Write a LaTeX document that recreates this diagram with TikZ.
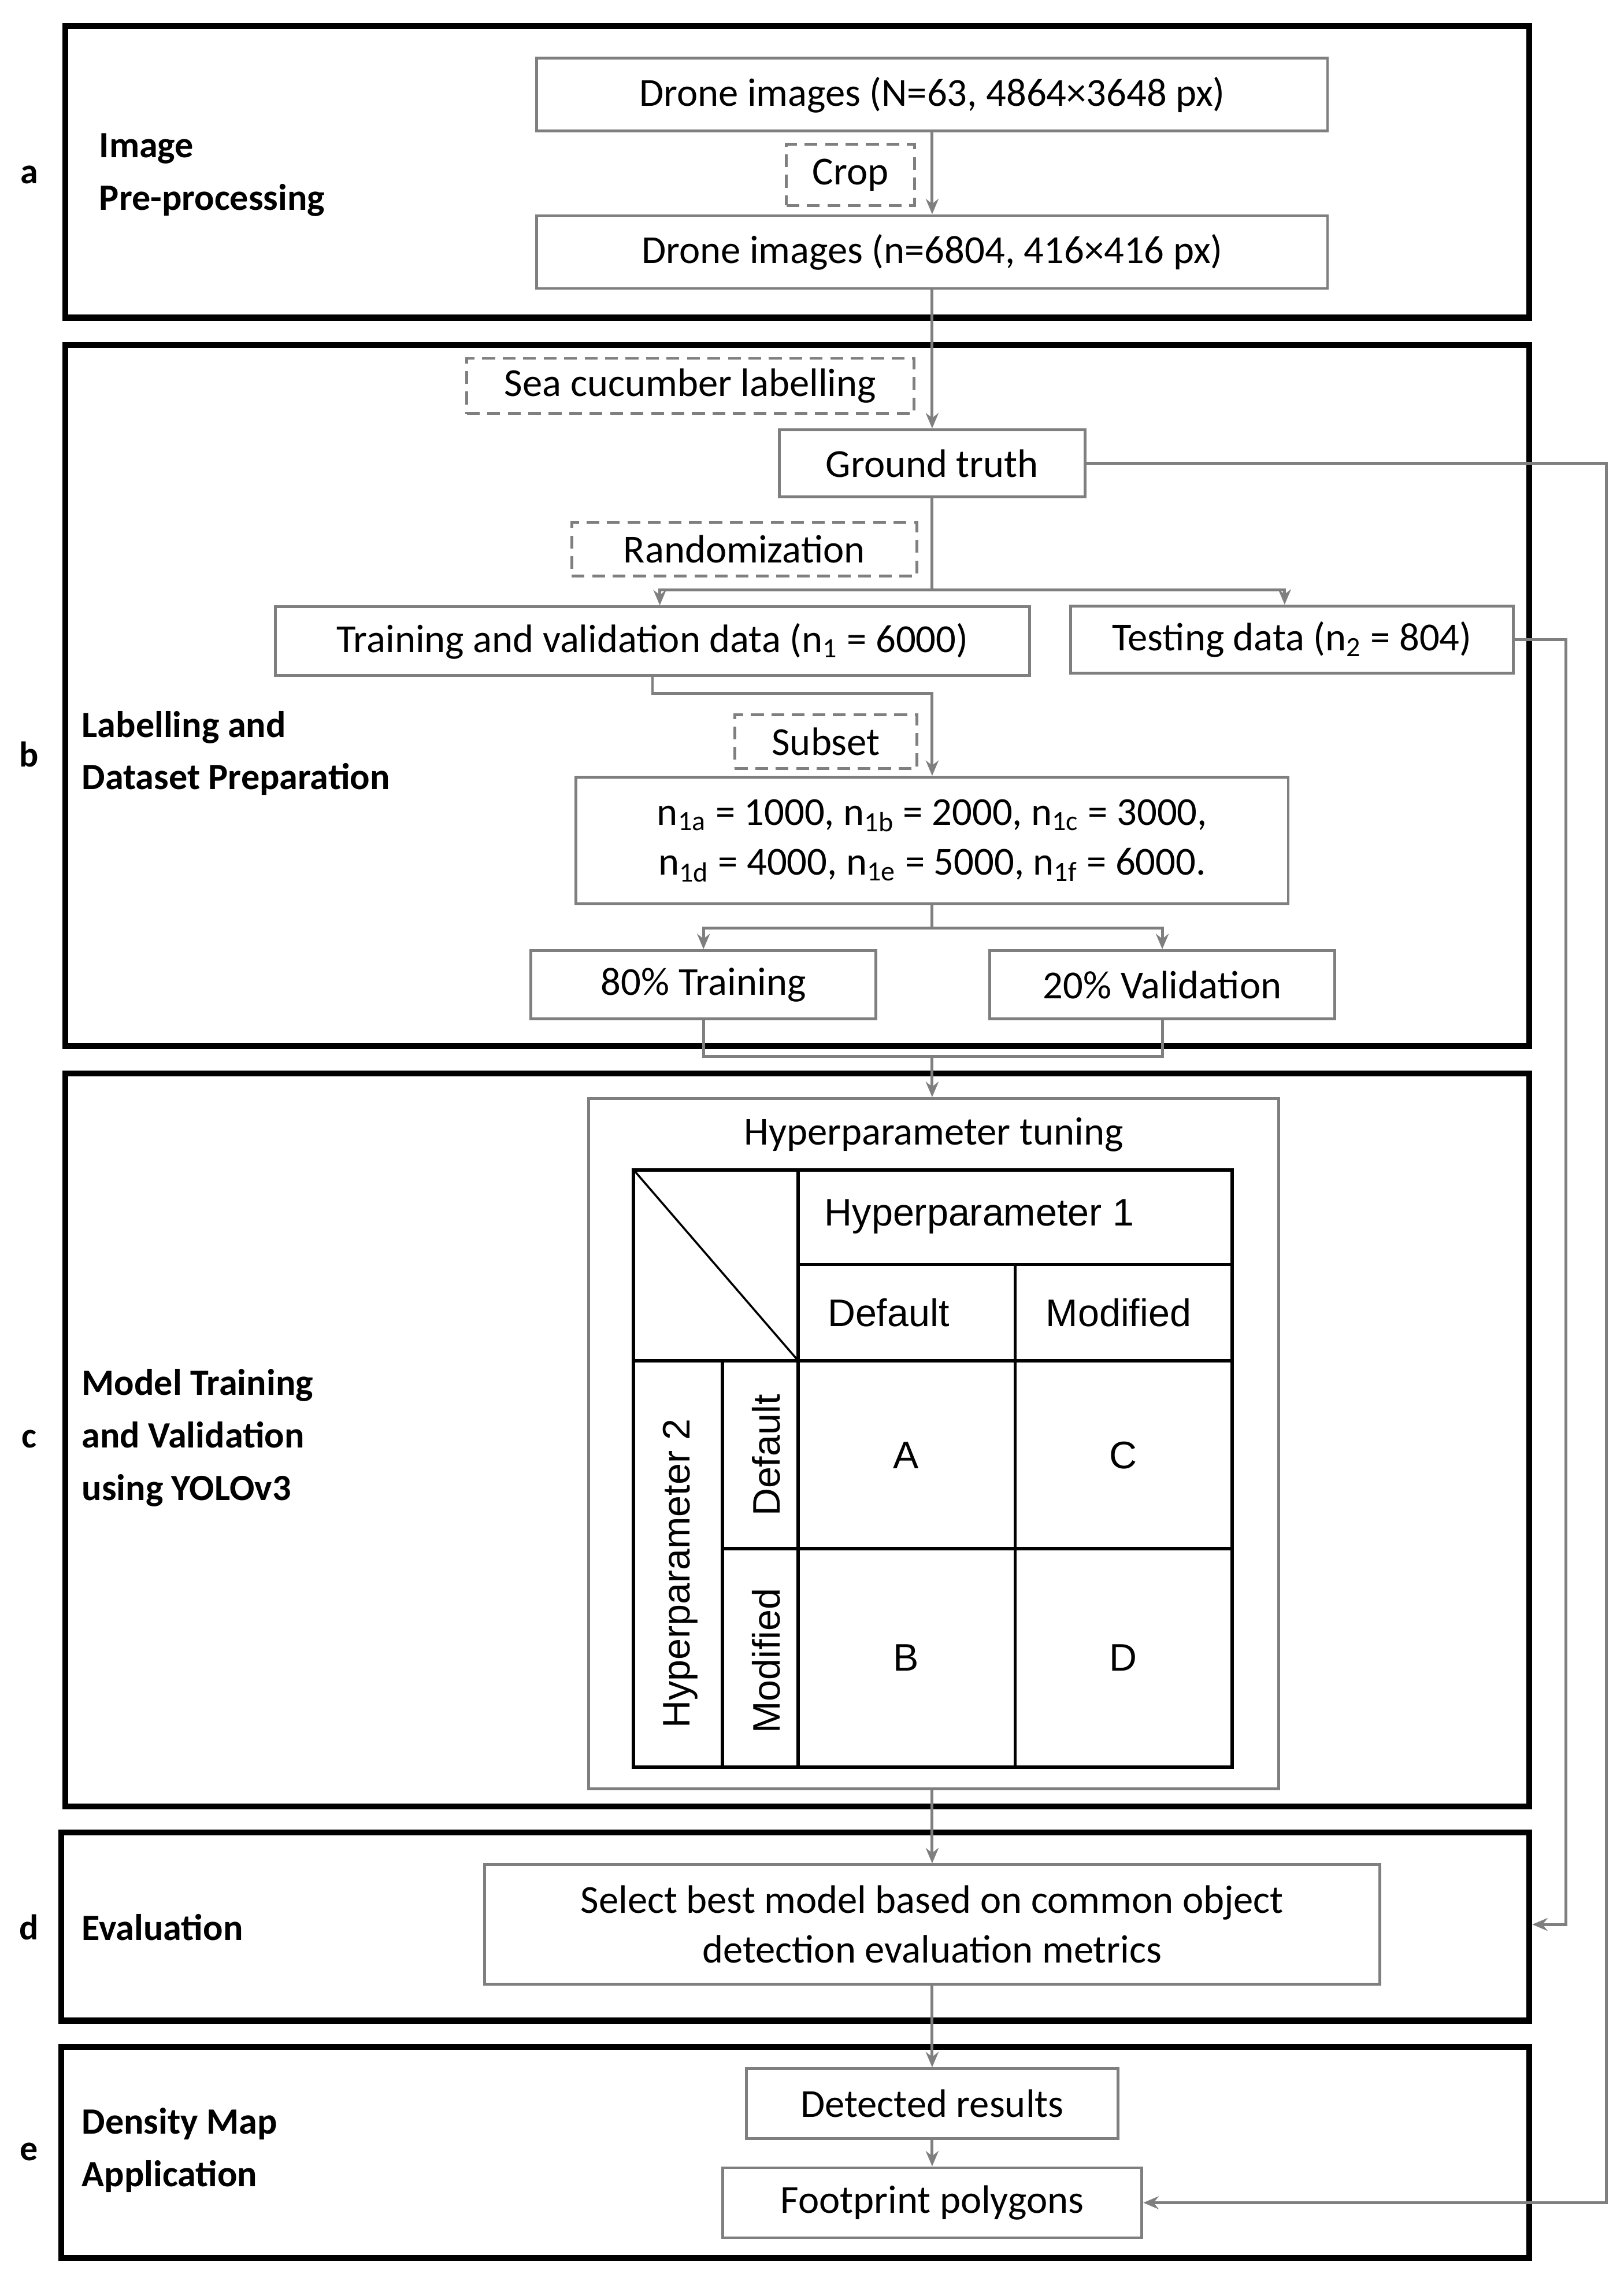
\documentclass[tikz,border=0pt]{standalone}
\usepackage{fontspec}
\setmainfont{Carlito}
\newfontfamily\tabfont{Liberation Sans}
\usetikzlibrary{arrows.meta}
\definecolor{lineGray}{HTML}{7F7F7F}
\tikzset{
    objPanel/.style={draw=black, line width=2.3pt},
    objBox/.style={rectangle, draw=lineGray, line width=1.1pt, align=center, inner sep=0pt, font=\fontsize{15.5}{19.5}\selectfont},
    objDashed/.style={objBox, dashed, dash pattern=on 5pt off 3pt},
    objTitle/.style={anchor=west, align=left, font=\bfseries\fontsize{14.5}{20.5}\selectfont},
    objLetter/.style={font=\bfseries\fontsize{14}{16}\selectfont},
    objCell/.style={font=\tabfont\fontsize{15}{18}\selectfont},
    arrow/.style={draw=lineGray, line width=1.1pt, -{Stealth[length=6pt,width=5pt]}},
    line/.style={draw=lineGray, line width=1.1pt}
}
\begin{document}
\begin{tikzpicture}[x=0.02cm, y=-0.02cm]
    \useasboundingbox (0,0) rectangle (1115,1563);

    % panels
    \draw[objPanel] (45,18) rectangle (1050,218);
    \draw[objPanel] (45,237) rectangle (1050,718);
    \draw[objPanel] (45,737) rectangle (1050,1240);
    \draw[objPanel] (42,1258) rectangle (1050,1387);
    \draw[objPanel] (42,1405) rectangle (1050,1550);

    \node[objLetter] (la) at (20,120) {a};
    \node[objLetter] (lb) at (20,518) {b};
    \node[objLetter] (lc) at (20,988) {c};
    \node[objLetter] (ld) at (20,1323) {d};
    \node[objLetter] (le) at (20,1477) {e};
    \node[objTitle] (ta) at (62,120) {Image\\Pre-processing};
    \node[objTitle] (tb) at (50,517) {Labelling and\\Dataset Preparation};
    \node[objTitle] (tc) at (50,987) {Model Training\\and Validation\\using YOLOv3};
    \node[objTitle] (td) at (50,1323) {Evaluation};
    \node[objTitle] (te) at (50,1476) {Density Map\\Application};

    % boxes
    \node (img1) [objBox, minimum width=10.86cm, minimum height=1cm] at (640,65) {Drone images (N=63, 4864×3648 px)};
    \node (crop) [objDashed, minimum width=1.76cm, minimum height=0.84cm] at (584,120) {Crop};
    \node (img2) [objBox, minimum width=10.86cm, minimum height=1cm] at (640,173) {Drone images (n=6804, 416×416 px)};
    \node (lab) [objDashed, minimum width=6.14cm, minimum height=0.76cm] at (474,265) {Sea cucumber labelling};
    \node (gt) [objBox, minimum width=4.2cm, minimum height=0.92cm] at (640,318) {Ground truth};
    \node (rand) [objDashed, minimum width=4.74cm, minimum height=0.74cm] at (511,377) {Randomization};
    \node (train) [objBox, minimum width=10.36cm, minimum height=0.94cm] at (448,440) {Training and validation data (n\textsubscript{1} = 6000)};
    \node (test) [objBox, minimum width=6.08cm, minimum height=0.92cm] at (887,439) {Testing data (n\textsubscript{2} = 804)};
    \node (sub) [objDashed, minimum width=2.5cm, minimum height=0.74cm] at (567,509) {Subset};
    \node (subs) [objBox, minimum width=9.78cm, minimum height=1.74cm] at (640,577) {n\textsubscript{1a} = 1000, n\textsubscript{1b} = 2000, n\textsubscript{1c} = 3000,\\n\textsubscript{1d} = 4000, n\textsubscript{1e} = 5000, n\textsubscript{1f} = 6000.};
    \node (tr) [objBox, minimum width=4.74cm, minimum height=0.94cm] at (483,676) {80\% Training};
    \node (val) [objBox, minimum width=4.74cm, minimum height=0.94cm] at (798,676) {20\% Validation};
    \node (hyp) [objBox, minimum width=9.48cm, minimum height=9.48cm] at (641,991) {};
    \node (hypt) [objBox, draw=none] at (641,779) {Hyperparameter tuning};
    \node (eval) [objBox, minimum width=12.3cm, minimum height=1.64cm] at (640,1321) {Select best model based on common object\\detection evaluation metrics};
    \node (det) [objBox, minimum width=5.1cm, minimum height=0.96cm] at (640,1444) {Detected results};
    \node (foot) [objBox, minimum width=5.76cm, minimum height=0.96cm] at (640,1512) {Footprint polygons};
    \coordinate (evin) at (1052,1321);

    % table
    \draw[line width=1.3pt] (435,803) rectangle (846,1213);
    \draw[line width=1.3pt] (548,803) -- (548,1213) (697,868) -- (697,1213) (496,934) -- (496,1213);
    \draw[line width=1.3pt] (548,868) -- (846,868) (435,934) -- (846,934) (496,1063) -- (846,1063);
    \draw[line width=0.8pt] (435,803) -- (548,934);
    \node[objCell, anchor=west] (h1) at (560,835) {Hyperparameter 1};
    \node[objCell] (c1) at (610,901) {Default};
    \node[objCell] (c2) at (768,901) {Modified};
    \node[objCell, rotate=90] (h2) at (467,1080) {Hyperparameter 2};
    \node[objCell, rotate=90] (r1) at (526,999) {Default};
    \node[objCell, rotate=90] (r2) at (526,1140) {Modified};
    \node[objCell] (cA) at (622,999) {A};
    \node[objCell] (cC) at (771,999) {C};
    \node[objCell] (cB) at (622,1138) {B};
    \node[objCell] (cD) at (771,1138) {D};

    % connectors
    \draw[arrow] (img1) -- (img2);
    \draw[arrow] (img2) -- (gt);
    \draw[line] (gt.south) -- (640,405);
    \draw[arrow] (640,405) -| (train.north -| 453,0);
    \draw[arrow] (640,405) -| (test.north -| 882,0);
    \draw[arrow] (train.south) |- (640,476) -- (subs.north);
    \draw[line] (subs.south) -- (640,637);
    \draw[arrow] (640,637) -| (tr.north);
    \draw[arrow] (640,637) -| (val.north);
    \draw[line] (tr.south) |- (640,725) -| (val.south);
    \draw[arrow] (640,725) -- (hyp.north -| 640,0);
    \draw[arrow] (hyp.south -| 640,0) -- (eval.north);
    \draw[arrow] (eval) -- (det);
    \draw[arrow] (det) -- (foot);
    \draw[arrow] (gt.east) -| (1103,1512) -- (foot.east);
    \draw[arrow] (test.east) -| (1075,1321) -- (evin);
\end{tikzpicture}
\end{document}
